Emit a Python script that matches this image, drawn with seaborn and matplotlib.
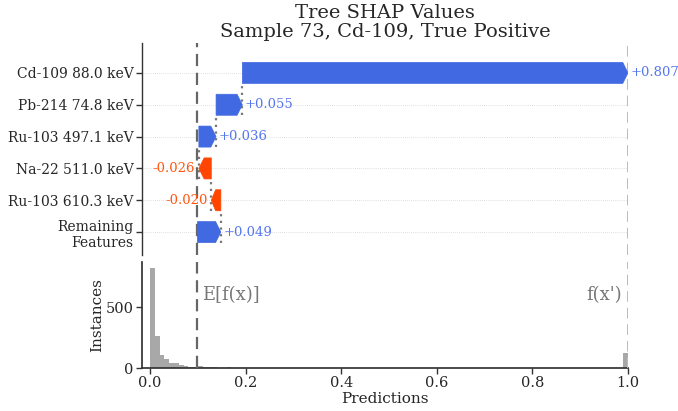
import numpy as np
import pandas as pd
import matplotlib
matplotlib.use("Agg")
import matplotlib.pyplot as plt
import seaborn as sns
from matplotlib.patches import Polygon

# ---------------- data ----------------
features = ["Cd-109 88.0 keV", "Pb-214 74.8 keV", "Ru-103 497.1 keV",
            "Na-22 511.0 keV", "Ru-103 610.3 keV", "Remaining\nFeatures"]
shap_values = [0.807, 0.055, 0.036, -0.026, -0.020, 0.049]
value_labels = ["+0.807", "+0.055", "+0.036", "-0.026", "-0.020", "+0.049"]
base_value = 0.099
final_value = 1.0

hist_bin_left = [0.00, 0.01, 0.02, 0.03, 0.04, 0.05, 0.06, 0.07, 0.08, 0.09,
                 0.10, 0.11, 0.12, 0.13, 0.14, 0.15, 0.16, 0.17, 0.18, 0.19,
                 0.22, 0.27, 0.33, 0.45, 0.58, 0.71, 0.86, 0.99]
hist_counts = [820, 265, 110, 75, 45, 40, 22, 15, 12, 12,
               15, 12, 8, 5, 3, 3, 5, 4, 2, 2,
               2, 1, 1, 1, 1, 1, 1, 125]
bin_width = 0.01

# ---------------- style ----------------
sns.set_theme(style="white")
plt.rcParams["font.family"] = ["DejaVu Serif"]
plt.rcParams["axes.edgecolor"] = "#333333"

POS = "#4169E1"
NEG = "#FF4500"
POS_TXT = "#5577EE"
NEG_TXT = "#FF5511"

fig = plt.figure(figsize=(6.78, 4.11), dpi=100)
ax = fig.add_axes([142/678, (411-255)/411, (628-142)/678, (255-43)/411])
axh = fig.add_axes([142/678, (411-368)/411, (628-142)/678, (368-262)/411], sharex=ax)

xmin, xmax = -0.017, 1.0
n = len(features)
rows = list(range(n - 1, -1, -1))  # Cd at top
bar_h = 0.66

# cumulative starts: from bottom (Remaining) upward
starts = [0.0] * n
cur = base_value
for i in range(n - 1, -1, -1):
    starts[i] = cur
    cur += shap_values[i]

# grid lines
for r in rows:
    ax.axhline(r, color="#d5d5d5", lw=0.6, ls=(0, (1, 1.5)), zorder=0)

# base / final lines
ax.axvline(base_value, color="#666666", lw=1.6, ls=(0, (5.5, 3)), zorder=1)
ax.axvline(final_value, color="#bbbbbb", lw=1.4, ls=(0, (5.5, 3)), zorder=1)
axh.axvline(base_value, color="#666666", lw=1.6, ls=(0, (5.5, 3)), zorder=3)
axh.axvline(final_value, color="#bbbbbb", lw=1.4, ls=(0, (5.5, 3)), zorder=3)

for i, (f, v) in enumerate(zip(features, shap_values)):
    y = rows[i]
    s = starts[i]
    e = s + v
    hl = min(0.011, abs(v) * 0.45)
    if v >= 0:
        pts = [(s, y - bar_h/2), (e - hl, y - bar_h/2), (e, y),
               (e - hl, y + bar_h/2), (s, y + bar_h/2)]
    else:
        pts = [(s, y - bar_h/2), (e + hl, y - bar_h/2), (e, y),
               (e + hl, y + bar_h/2), (s, y + bar_h/2)]
    col = POS if v >= 0 else NEG
    ax.add_patch(Polygon(pts, closed=True, facecolor=col, edgecolor=col, lw=0.5, zorder=3))
    # connector dotted line at the end of bar up to row above
    if i > 0:
        ax.plot([e, e], [y - bar_h/2, y + 1 - bar_h/2], color="#777777", lw=1.6,
                ls=(0, (1, 2)), zorder=2)
    if v >= 0:
        ax.text(e + 0.005, y, value_labels[i], color=POS_TXT, fontsize=9.5,
                va="center", ha="left", zorder=4, clip_on=False)
    else:
        ax.text(e - 0.008, y, value_labels[i], color=NEG_TXT, fontsize=9.5,
                va="center", ha="right", zorder=4, clip_on=False)

ax.set_xlim(xmin, xmax)
ax.set_ylim(-0.72, n - 1 + 0.94)
ax.set_yticks(rows)
ax.set_yticklabels(features, fontsize=10)
ax.tick_params(axis="y", left=True, length=4, width=1, color="#333333", pad=2)
ax.tick_params(axis="x", bottom=False, labelbottom=False)
for sp in ["top", "right", "bottom"]:
    ax.spines[sp].set_visible(False)
ax.spines["left"].set_linewidth(1.0)
ax.set_title("Tree SHAP Values\nSample 73, Cd-109, True Positive", fontsize=14,
             pad=4, linespacing=1.1)

# histogram
hist_df = pd.DataFrame({"pred": np.array(hist_bin_left) + bin_width/2,
                        "count": hist_counts})
sns.histplot(data=hist_df, x="pred", weights="count", binwidth=bin_width,
             binrange=(0.0, 1.0), ax=axh,
             color="#999999", alpha=0.85, edgecolor="none", linewidth=0, zorder=2)
axh.set_xlim(xmin, xmax)
axh.set_ylim(0, 870)
axh.set_yticks([0, 500])
axh.set_xticks([0.0, 0.2, 0.4, 0.6, 0.8, 1.0])
axh.tick_params(axis="both", labelsize=10.5, length=4, width=1, color="#333333",
                bottom=True, left=True, pad=2)
axh.set_xlabel("Predictions", fontsize=11, labelpad=1)
axh.set_ylabel("Instances", fontsize=11, labelpad=1)
for sp in ["top", "right"]:
    axh.spines[sp].set_visible(False)
axh.text(base_value + 0.01, 600, "E[f(x)]", color="#777777", fontsize=13,
         va="center", ha="left")
axh.text(final_value - 0.012, 600, "f(x')", color="#777777", fontsize=13,
         va="center", ha="right")

fig.savefig("out.png", dpi=100)
